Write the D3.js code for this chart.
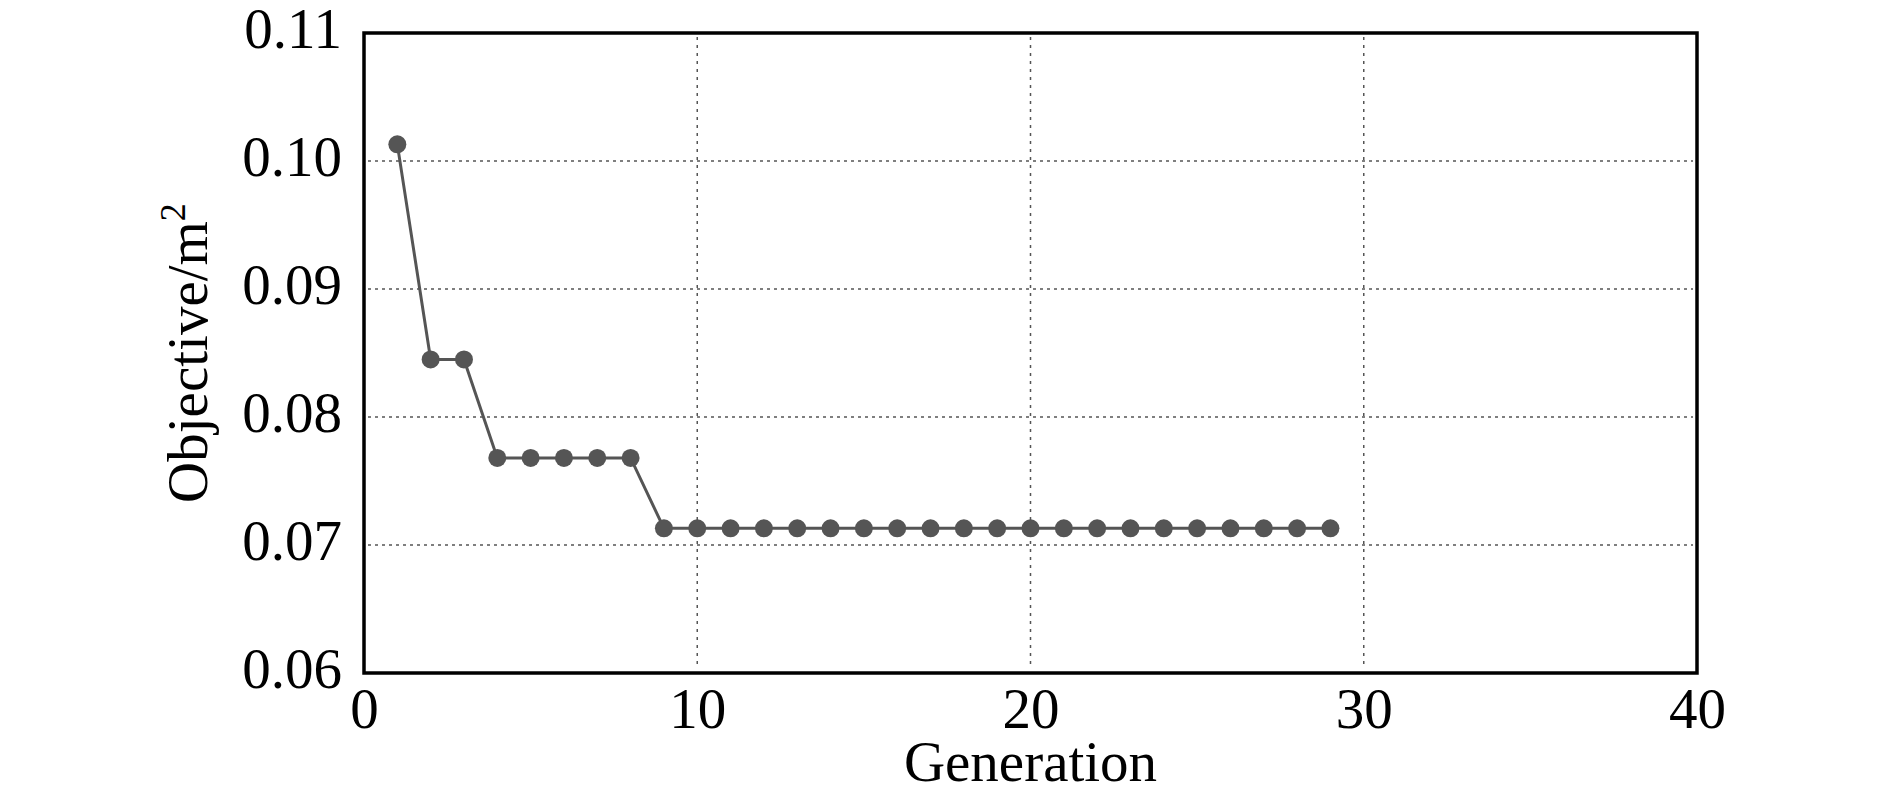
<!DOCTYPE html>
<html><head><meta charset="utf-8">
<script src="https://cdn.jsdelivr.net/npm/d3@7"></script>
<style>html,body{margin:0;padding:0;background:#fff;}svg{display:block;}</style>
</head><body>
<script>
const generations = [1,2,3,4,5,6,7,8,9,10,11,12,13,14,15,16,17,18,19,20,21,22,23,24,25,26,27,28,29];
const objective = [0.1013,0.0845,0.0845,0.0768,0.0768,0.0768,0.0768,0.0768,
  0.0713,0.0713,0.0713,0.0713,0.0713,0.0713,0.0713,0.0713,0.0713,0.0713,0.0713,0.0713,
  0.0713,0.0713,0.0713,0.0713,0.0713,0.0713,0.0713,0.0713,0.0713];
const xTicks = [0,10,20,30,40];
const yTicks = [0.06,0.07,0.08,0.09,0.10,0.11];
const xTickLabels = ["0","10","20","30","40"];
const yTickLabels = ["0.06","0.07","0.08","0.09","0.10","0.11"];

const W = 1890, H = 791;
const m = {left:364, right:W-1697, top:33, bottom:H-673};
const svg = d3.select("body").append("svg").attr("width",W).attr("height",H);
const x = d3.scaleLinear().domain([0,40]).range([m.left, W-m.right]);
const y = d3.scaleLinear().domain([0.06,0.11]).range([H-m.bottom, m.top]);
const font = "'Liberation Serif','Times New Roman',serif";
const fs = 57;

// grid
svg.append("g").selectAll("line").data(yTicks.filter(v=>v>0.06&&v<0.11)).join("line")
  .attr("x1",x(0)+4).attr("x2",x(40)-4).attr("y1",d=>y(d)).attr("y2",d=>y(d))
  .attr("stroke","#555").attr("stroke-width",1.5).attr("stroke-dasharray","3,4");
svg.append("g").selectAll("line").data(xTicks.filter(v=>v>0&&v<40)).join("line")
  .attr("y1",y(0.11)+4).attr("y2",y(0.06)-4).attr("x1",d=>x(d)).attr("x2",d=>x(d))
  .attr("stroke","#555").attr("stroke-width",1.5).attr("stroke-dasharray","3,5");

// axes (labels only, via d3 axes)
const xAxis = svg.append("g").attr("transform",`translate(0,${y(0.06)})`)
  .call(d3.axisBottom(x).tickValues(xTicks).tickFormat((d,i)=>xTickLabels[i]).tickSize(0).tickPadding(0));
xAxis.select(".domain").remove();
xAxis.selectAll("text").attr("font-family",font).attr("font-size",fs).attr("fill","#000")
  .attr("dy",null).attr("y",55);

const yAxis = svg.append("g").attr("transform",`translate(${x(0)},0)`)
  .call(d3.axisLeft(y).tickValues(yTicks).tickFormat((d,i)=>yTickLabels[i]).tickSize(0).tickPadding(0));
yAxis.select(".domain").remove();
yAxis.selectAll("text").attr("font-family",font).attr("font-size",fs).attr("fill","#000")
  .attr("dy",null).attr("x",-22).attr("y",14);

// line + markers
const line = d3.line().x((d,i)=>x(generations[i])).y(d=>y(d));
svg.append("path").datum(objective).attr("d",line).attr("fill","none")
  .attr("stroke","#555").attr("stroke-width",3);
svg.append("g").selectAll("circle").data(objective).join("circle")
  .attr("cx",(d,i)=>x(generations[i])).attr("cy",d=>y(d)).attr("r",9).attr("fill","#555");

// frame
svg.append("rect").attr("x",x(0)).attr("y",y(0.11)).attr("width",x(40)-x(0)).attr("height",y(0.06)-y(0.11))
  .attr("fill","none").attr("stroke","#000").attr("stroke-width",3.5);

// axis titles
svg.append("text").attr("x",(x(0)+x(40))/2).attr("y",781).attr("text-anchor","middle")
  .attr("font-family",font).attr("font-size",fs).text("Generation");
const yt = svg.append("text").attr("transform",`translate(207,${(y(0.06)+y(0.11))/2}) rotate(-90)`)
  .attr("text-anchor","middle").attr("font-family",font).attr("font-size",fs);
yt.append("tspan").text("Objective/m");
yt.append("tspan").attr("dy",-22).attr("font-size",36).text("2");
</script>
</body></html>
